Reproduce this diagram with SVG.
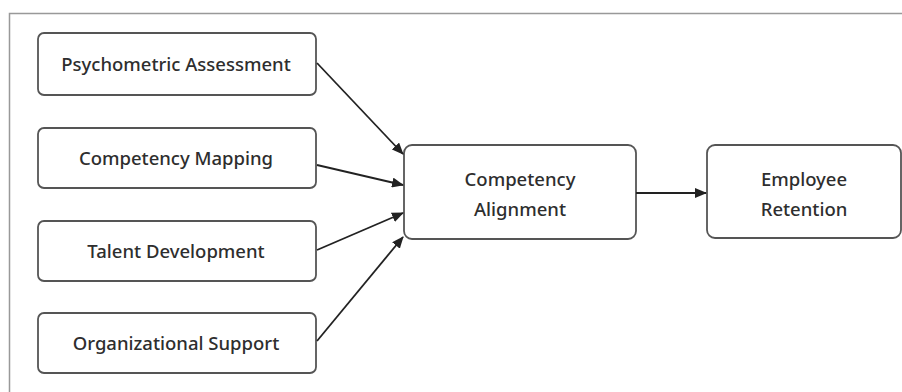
<svg xmlns="http://www.w3.org/2000/svg" width="902" height="392" viewBox="0 0 902 392">
<style>
.box{fill:#fff;stroke:#555;stroke-width:1.8}
.t{font-family:"Noto Sans","Open Sans",sans-serif;font-size:18.5px;fill:#2e2e2e;text-anchor:middle;font-weight:500}
.c{stroke:#222;stroke-width:1.8;fill:none;marker-end:url(#ah)}
</style>
<defs>
<marker id="ah" markerWidth="12" markerHeight="10" refX="11" refY="5" orient="auto" markerUnits="userSpaceOnUse">
<path d="M0,0 L12,5 L0,10 z" fill="#222"/>
</marker>
</defs>
<rect x="0" y="0" width="902" height="392" fill="#fff"/>
<path d="M9.5,392 L9.5,13.5 L902,13.5" fill="none" stroke="#999" stroke-width="1.5"/>
<g id="psychometric">
<rect class="box" x="38" y="33" width="278" height="62" rx="6"/>
<text class="t" x="176" y="71">Psychometric Assessment</text>
</g>
<g id="mapping">
<rect class="box" x="38" y="128" width="278" height="60" rx="6"/>
<text class="t" x="176" y="165">Competency Mapping</text>
</g>
<g id="talent">
<rect class="box" x="38" y="221" width="278" height="60" rx="6"/>
<text class="t" x="176" y="258">Talent Development</text>
</g>
<g id="support">
<rect class="box" x="38" y="313" width="278" height="60" rx="6"/>
<text class="t" x="176" y="350">Organizational Support</text>
</g>
<g id="alignment">
<rect class="box" x="404" y="145" width="232" height="94" rx="8"/>
<text class="t" x="520" y="186">Competency</text>
<text class="t" x="520" y="216">Alignment</text>
</g>
<g id="retention">
<rect class="box" x="707" y="145" width="194" height="93" rx="8"/>
<text class="t" x="804" y="186">Employee</text>
<text class="t" x="804" y="216">Retention</text>
</g>
<g id="connectors">
<line class="c" x1="317" y1="63" x2="403" y2="154"/>
<line class="c" x1="317" y1="165" x2="403" y2="185"/>
<line class="c" x1="317" y1="250" x2="403" y2="213"/>
<line class="c" x1="317" y1="341" x2="403" y2="237"/>
<line class="c" x1="636" y1="193" x2="706" y2="193"/>
</g>
</svg>
